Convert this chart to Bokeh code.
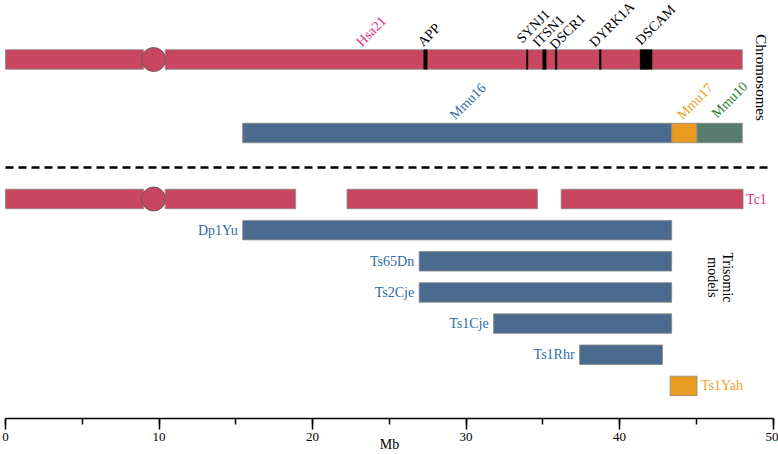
import math
from bokeh.plotting import figure
from bokeh.models import Range1d, SingleIntervalTicker, ColumnDataSource
from bokeh.core.properties import value
from bokeh.embed import file_html
from bokeh.resources import INLINE

# ---------------- data (Mb) ----------------
hsa21_seg_start = [0.0, 10.4]
hsa21_seg_end = [9.0, 48.0]
centromere_mb = 9.65

genes = ["APP", "SYNJ1", "ITSN1", "DSCR1", "DYRK1A", "DSCAM"]
gene_start = [27.25, 33.95, 35.0, 35.82, 38.7, 41.35]
gene_end = [27.47, 34.03, 35.22, 35.92, 38.8, 42.12]
gene_label_x = [27.0, 33.45, 34.5, 35.6, 38.2, 41.2]

mouse_chr = ["Mmu16", "Mmu17", "Mmu10"]
mouse_start = [15.45, 43.4, 45.05]
mouse_end = [43.4, 45.05, 48.0]
mouse_label_x = [29.1, 43.9, 46.15]

tc1_seg_start = [0.0, 10.4, 22.25, 36.2]
tc1_seg_end = [9.0, 18.9, 34.65, 48.05]

models = ["Dp1Yu", "Ts65Dn", "Ts2Cje", "Ts1Cje", "Ts1Rhr"]
model_start = [15.45, 26.95, 26.95, 31.8, 37.4]
model_end = [43.4, 43.4, 43.4, 43.4, 42.8]

yah_name = ["Ts1Yah"]
yah_start = [43.3]
yah_end = [45.05]

x_min, x_max = 0, 50
x_ticks_major = 10
x_ticks_minor = 5

# ---------------- styles / layout ----------------
RED = "#c8465f"
BLUE = "#4a6a8e"
ORANGE = "#e89b1e"
GREEN = "#577b6f"
PINK_TXT = "#e0307f"
BLUE_TXT = "#2f6ca6"
ORANGE_TXT = "#e8a22a"
GREEN_TXT = "#2b7a2b"
OUTLINE = "#8a8a8a"
FONT_NAME = "Liberation Serif"
FONT = value(FONT_NAME)

W, H = 778, 454
PX = 15.35             # pixels per Mb (same on both axes -> isotropic)
LEFT_PAD = 5           # pixels left of 0 Mb
AXIS_PX = 418          # pixel row of the axis line


def Y(px):             # vertical layout helper: pixel row -> isotropic data units
    return -px / PX


BAR_H = 19.5 / PX
Y_HSA = Y(59)
Y_MMU = Y(132.5)
Y_DASH = Y(167)
Y_TC1 = Y(198.5)
ROW_STEP = 31.15 / PX

x0 = -LEFT_PAD / PX
p = figure(width=W, height=H, output_backend="svg", toolbar_location=None,
           x_range=Range1d(x0, x0 + W / PX), y_range=Range1d(Y(AXIS_PX), Y(0)),
           y_axis_location=None, min_border=0, min_border_left=0,
           min_border_right=0, min_border_top=0, min_border_bottom=0)
p.outline_line_color = None
p.xgrid.visible = False
p.ygrid.visible = False


def bars(starts, ends, y, color):
    src = ColumnDataSource(dict(left=starts, right=ends,
                                top=[y + BAR_H / 2] * len(starts),
                                bottom=[y - BAR_H / 2] * len(starts)))
    p.quad(left="left", right="right", top="top", bottom="bottom", source=src,
           fill_color=color, line_color=OUTLINE, line_width=1, line_alpha=0.8)


A45 = math.pi / 4

# Human chromosome 21
bars(hsa21_seg_start, hsa21_seg_end, Y_HSA, RED)
p.scatter(x=[centromere_mb], y=[Y_HSA], marker="circle", size=24,
          fill_color=RED, line_color="#6e5a5e", line_width=1)
gsrc = ColumnDataSource(dict(left=gene_start, right=gene_end,
                             top=[Y_HSA + BAR_H / 2] * len(genes),
                             bottom=[Y_HSA - BAR_H / 2] * len(genes)))
p.quad(left="left", right="right", top="top", bottom="bottom", source=gsrc,
       fill_color="black", line_color="black", line_width=0.5)

lab = ColumnDataSource(dict(x=gene_label_x,
                            y=[Y(v) for v in (43.5, 40, 44, 46.5, 44, 42)], t=genes))
p.text(x="x", y="y", text="t", source=lab, angle=A45,
       text_align="left", text_baseline="alphabetic", text_font=FONT,
       text_font_size="14px", text_color="black")
p.text(x=[23.0], y=[Y(43.5)], text=["Hsa21"], angle=A45,
       text_align="left", text_baseline="alphabetic", text_font=FONT,
       text_font_size="14px", text_color=PINK_TXT)

# Mouse chromosomes
mouse_colors = [BLUE, ORANGE, GREEN]
for s, e, c in zip(mouse_start, mouse_end, mouse_colors):
    bars([s], [e], Y_MMU, c)
msrc = ColumnDataSource(dict(x=mouse_label_x, y=[Y(116.5), Y(116.5), Y(115)],
                             t=mouse_chr, c=[BLUE_TXT, ORANGE_TXT, GREEN_TXT]))
p.text(x="x", y="y", text="t", source=msrc, angle=A45,
       text_align="left", text_baseline="alphabetic", text_font=FONT,
       text_font_size="14px", text_color="c")

# Separator
p.segment(x0=[x_min], y0=[Y_DASH], x1=[x_max - 0.15], y1=[Y_DASH],
          line_color="black", line_width=2.5, line_dash="8 5")

# Tc1
bars(tc1_seg_start, tc1_seg_end, Y_TC1, RED)
p.scatter(x=[centromere_mb], y=[Y_TC1], marker="circle", size=24,
          fill_color=RED, line_color="#6e5a5e", line_width=1)
p.text(x=[tc1_seg_end[-1]], y=[Y_TC1], text=["Tc1"], x_offset=3,
       text_align="left", text_baseline="middle", text_font=FONT,
       text_font_size="14px", text_color=PINK_TXT)

# Trisomic models (Mmu16)
model_y = [Y_TC1 - ROW_STEP * (i + 1) for i in range(len(models))]
src = ColumnDataSource(dict(left=model_start, right=model_end,
                            top=[y + BAR_H / 2 for y in model_y],
                            bottom=[y - BAR_H / 2 for y in model_y],
                            y=model_y, name=models))
p.quad(left="left", right="right", top="top", bottom="bottom", source=src,
       fill_color=BLUE, line_color=OUTLINE, line_width=1, line_alpha=0.8)
p.text(x="left", y="y", text="name", source=src, x_offset=-5,
       text_align="right", text_baseline="middle", text_font=FONT,
       text_font_size="14px", text_color=BLUE_TXT)

# Ts1Yah (Mmu17)
y_yah = Y_TC1 - ROW_STEP * (len(models) + 1)
bars(yah_start, yah_end, y_yah, ORANGE)
p.text(x=yah_end, y=[y_yah], text=yah_name, x_offset=4,
       text_align="left", text_baseline="middle", text_font=FONT,
       text_font_size="14px", text_color=ORANGE_TXT)

# Side labels
p.text(x=[49.2], y=[Y(77)], text=["Chromosomes"], angle=-math.pi / 2,
       text_align="center", text_baseline="middle", text_font=FONT,
       text_font_size="15px", text_color="black")
p.text(x=[46.55], y=[Y(277)], text=["Trisomic\nmodels"], angle=-math.pi / 2,
       text_align="center", text_baseline="middle", text_font=FONT,
       text_font_size="14px", text_color="black", text_line_height=1.05)

# Axis
ax = p.xaxis[0]
ax.ticker = SingleIntervalTicker(interval=x_ticks_major,
                                 num_minor_ticks=x_ticks_major // x_ticks_minor)
ax.bounds = (x_min, x_max)
ax.axis_label = "Mb"
ax.axis_label_text_font = FONT_NAME
ax.axis_label_text_font_style = "normal"
ax.axis_label_text_font_size = "14px"
ax.axis_label_text_color = "black"
ax.axis_label_standoff = -7
ax.major_label_text_font = FONT_NAME
ax.major_label_text_font_size = "13px"
ax.major_label_text_color = "black"
ax.major_label_standoff = 3
ax.axis_line_color = "black"
ax.axis_line_width = 1.5
ax.major_tick_in = 0
ax.major_tick_out = 11
ax.minor_tick_in = 0
ax.minor_tick_out = 6
ax.major_tick_line_color = "black"
ax.minor_tick_line_color = "black"
ax.major_tick_line_width = 1.5
ax.minor_tick_line_width = 1.5

open("out.html", "w").write(file_html(p, INLINE))
